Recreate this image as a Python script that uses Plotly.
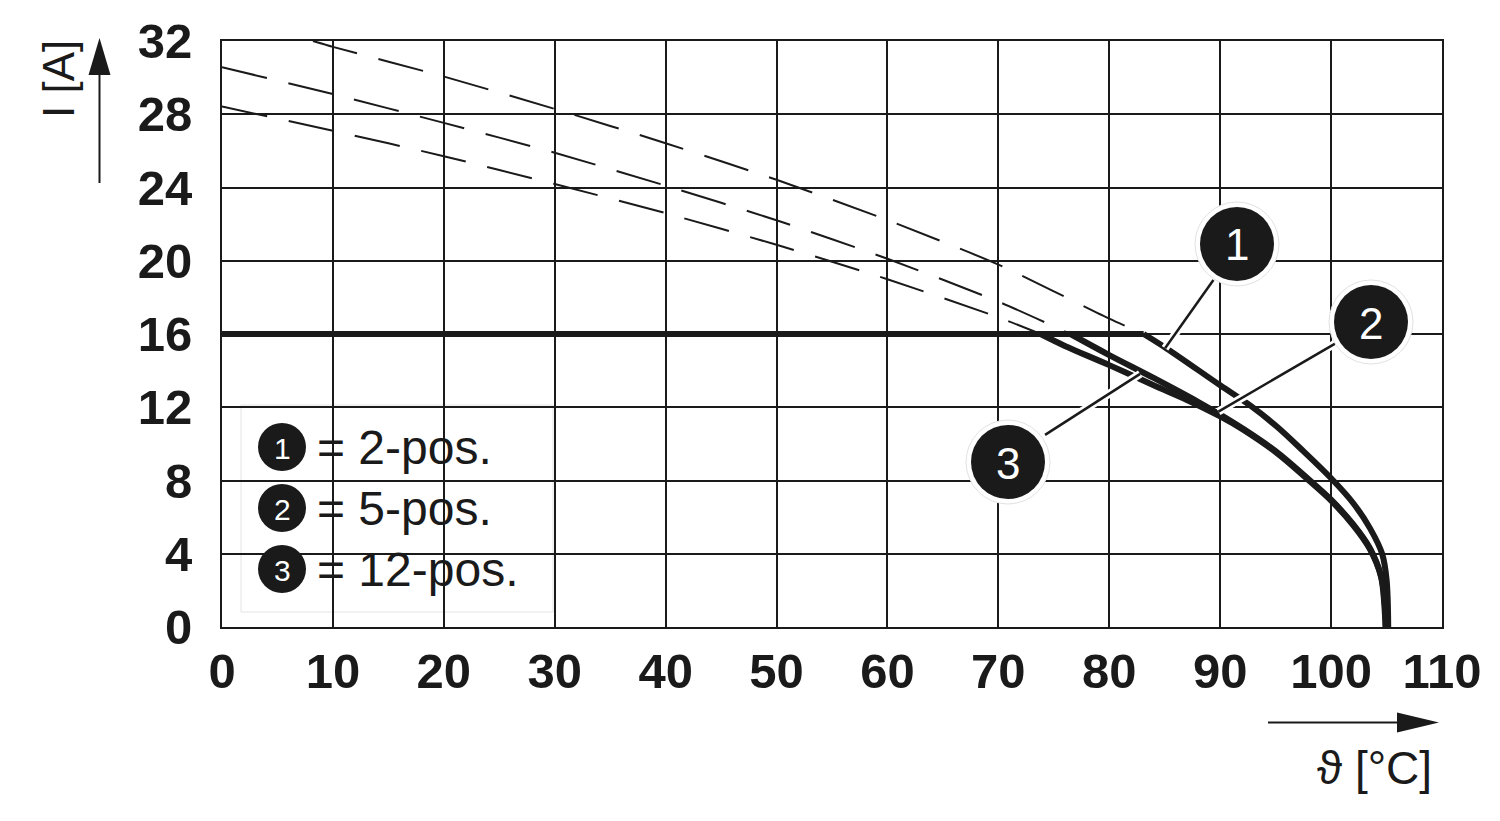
import plotly.graph_objects as go

# ---------------- data ----------------
x_ticks = [0, 10, 20, 30, 40, 50, 60, 70, 80, 90, 100, 110]
y_ticks = [0, 4, 8, 12, 16, 20, 24, 28, 32]

# dashed (theoretical) parts above the 16 A limit
temp_dash_1 = [8.2, 10, 20, 30, 40, 50, 60, 70, 80, 83.1]
cur_dash_1 = [32.0, 31.68, 30.06, 28.29, 26.42, 24.42, 22.22, 19.79, 16.84, 16.0]
temp_dash_2 = [0, 10, 20, 30, 40, 50, 60, 70, 76.5]
cur_dash_2 = [30.57, 29.1, 27.53, 25.9, 24.1, 22.21, 20.11, 17.77, 16.0]
temp_dash_3 = [0, 10, 20, 30, 40, 50, 60, 70, 73.8]
cur_dash_3 = [28.42, 27.1, 25.71, 24.19, 22.6, 20.87, 18.99, 16.91, 16.0]

# rated current plateau
rated_temp = [0, 83.1]
rated_cur = [16, 16]

# solid derating curves below 16 A
temp_solid_1 = [83.1, 85.2, 90, 92.7, 95.1, 97.5, 100, 102, 103.5, 104.6, 105.0, 105.15]
cur_solid_1 = [16.0, 15.2, 13.2, 12.1, 10.95, 9.6, 8.12, 6.76, 5.4, 4.0, 2.6, 0.0]
temp_solid_2 = [76.5, 80, 84, 88, 90, 92, 95, 98, 100, 102, 103.5, 104.5, 104.85, 104.95]
cur_solid_2 = [16.0, 14.85, 13.6, 12.3, 11.6, 10.85, 9.6, 8.05, 6.95, 5.6, 4.3, 2.8, 1.2, 0.0]
temp_solid_3 = [73.8, 76, 80, 84, 87, 90, 92, 95, 98, 100, 102, 103.5, 104.5, 104.8, 104.9]
cur_solid_3 = [16.0, 15.35, 14.3, 13.2, 12.4, 11.5, 10.8, 9.55, 8.0, 6.9, 5.55, 4.25, 2.75, 1.2, 0.0]

legend_labels = ["= 2-pos.", "= 5-pos.", "= 12-pos."]
callout_numbers = ["1", "2", "3"]

INK = "#1a1a1a"
W, H = 1500, 821
OFF = 8  # default page margin of the html body
L, R, T, B = 222 - OFF, 58 + OFF, 41 - OFF, 194 + OFF
PW, PH = W - L - R, H - T - B


def px(xp):
    """page pixel x -> paper"""
    return (xp - OFF - L) / PW


def py(yp):
    """page pixel y -> paper"""
    return (H - B - (yp - OFF)) / PH


fig = go.Figure()

dash_style = dict(color=INK, width=2, dash="46px,22px")
for xs, ys in [(temp_dash_1, cur_dash_1), (temp_dash_2, cur_dash_2), (temp_dash_3, cur_dash_3)]:
    fig.add_trace(go.Scatter(x=xs, y=ys, mode="lines", line=dict(dash_style, shape="spline", smoothing=0.6),
                             hoverinfo="skip", showlegend=False))

fig.add_trace(go.Scatter(x=rated_temp, y=rated_cur, mode="lines", line=dict(color=INK, width=6),
                         hoverinfo="skip", showlegend=False))
for xs, ys in [(temp_solid_1, cur_solid_1), (temp_solid_2, cur_solid_2), (temp_solid_3, cur_solid_3)]:
    fig.add_trace(go.Scatter(x=xs, y=ys, mode="lines",
                             line=dict(color=INK, width=6, shape="spline", smoothing=1.0),
                             hoverinfo="skip", showlegend=False))

shapes = []
annotations = []

# legend box
shapes.append(dict(type="rect", xref="paper", yref="paper", x0=px(241), x1=px(553), y0=py(612), y1=py(405),
                   fillcolor="white", line=dict(color="#e4e4e4", width=1), layer="between"))
legend_centers_y = [447, 508, 569]
for i, cy in enumerate(legend_centers_y):
    r = 24
    shapes.append(dict(type="circle", xref="paper", yref="paper", x0=px(282 - r), x1=px(282 + r),
                       y0=py(cy + r), y1=py(cy - r), fillcolor=INK, line=dict(width=0), layer="above"))
    annotations.append(dict(xref="paper", yref="paper", x=px(282), y=py(cy + 1), text=callout_numbers[i],
                            showarrow=False, font=dict(family="Liberation Sans", size=30, color="white"),
                            xanchor="center", yanchor="middle"))
    annotations.append(dict(xref="paper", yref="paper", x=px(315), y=py(cy), text=legend_labels[i],
                            showarrow=False, font=dict(family="Liberation Sans", size=48, color=INK),
                            xanchor="left", yanchor="middle"))

# leader lines (data coords)
leaders = [((89.39, 18.95), (85.03, 15.22)),
           ((100.4, 15.49), (89.84, 11.76)),
           ((74.21, 10.49), (82.78, 13.82))]
for (a, b) in leaders:
    shapes.append(dict(type="line", xref="x", yref="y", x0=a[0], y0=a[1], x1=b[0], y1=b[1],
                       line=dict(color="white", width=8), layer="above"))
for (a, b) in leaders:
    shapes.append(dict(type="line", xref="x", yref="y", x0=a[0], y0=a[1], x1=b[0], y1=b[1],
                       line=dict(color=INK, width=2.5), layer="above"))

# callout circles (page pixel positions)
callout_centers = [(1237, 244), (1371, 322), (1008, 462)]
for i, (cx, cy) in enumerate(callout_centers):
    rr = 42
    shapes.append(dict(type="circle", xref="paper", yref="paper", x0=px(cx - rr), x1=px(cx + rr),
                       y0=py(cy + rr), y1=py(cy - rr), fillcolor="white", line=dict(color="#e2e2e2", width=1),
                       layer="above"))
    r = 37
    shapes.append(dict(type="circle", xref="paper", yref="paper", x0=px(cx - r), x1=px(cx + r),
                       y0=py(cy + r), y1=py(cy - r), fillcolor=INK, line=dict(width=0), layer="above"))
    annotations.append(dict(xref="paper", yref="paper", x=px(cx), y=py(cy + 1), text=callout_numbers[i],
                            showarrow=False, font=dict(family="Liberation Sans", size=44, color="white"),
                            xanchor="center", yanchor="middle"))

# axis arrows
shapes.append(dict(type="line", xref="paper", yref="paper", x0=px(99.5), x1=px(99.5), y0=py(183), y1=py(70),
                   line=dict(color=INK, width=2)))
shapes.append(dict(type="path", xref="paper", yref="paper",
                   path=f"M {px(99.5)},{py(38)} L {px(88.5)},{py(75)} L {px(110.5)},{py(75)} Z",
                   fillcolor=INK, line=dict(width=0)))
shapes.append(dict(type="line", xref="paper", yref="paper", x0=px(1268), x1=px(1400), y0=py(722.5), y1=py(722.5),
                   line=dict(color=INK, width=2)))
shapes.append(dict(type="path", xref="paper", yref="paper",
                   path=f"M {px(1439)},{py(722.5)} L {px(1397)},{py(712.5)} L {px(1397)},{py(732.5)} Z",
                   fillcolor=INK, line=dict(width=0)))

annotations.append(dict(xref="paper", yref="paper", x=px(59), y=py(79), text="I [A]", textangle=-90,
                        showarrow=False, font=dict(family="Liberation Sans", size=44, color=INK),
                        xanchor="center", yanchor="middle"))
annotations.append(dict(xref="paper", yref="paper", x=px(1434), y=py(768), text="ϑ [°C]",
                        showarrow=False, font=dict(family="Liberation Sans", size=46, color=INK),
                        xanchor="right", yanchor="middle"))

tickfont = dict(family="Liberation Sans", size=49, color=INK, weight="bold")
fig.update_layout(
    width=W, height=H,
    margin=dict(l=L, r=R, t=T, b=B, pad=0, autoexpand=False),
    paper_bgcolor="white", plot_bgcolor="white",
    shapes=shapes, annotations=annotations,
    xaxis=dict(range=[0, 110], tickvals=x_ticks, ticktext=[str(v) for v in x_ticks],
               showgrid=True, gridcolor=INK, gridwidth=2, zeroline=False, automargin=False,
               showline=True, linecolor=INK, linewidth=2, mirror=True,
               ticks="", tickfont=tickfont, ticklabelstandoff=0, fixedrange=True),
    yaxis=dict(range=[0, 32], tickvals=y_ticks, ticktext=[str(v) for v in y_ticks],
               showgrid=True, gridcolor=INK, gridwidth=2, zeroline=False, automargin=False,
               showline=True, linecolor=INK, linewidth=2, mirror=True,
               ticks="", tickfont=tickfont, ticklabelstandoff=18, fixedrange=True),
)

fig.write_html("out.html")
